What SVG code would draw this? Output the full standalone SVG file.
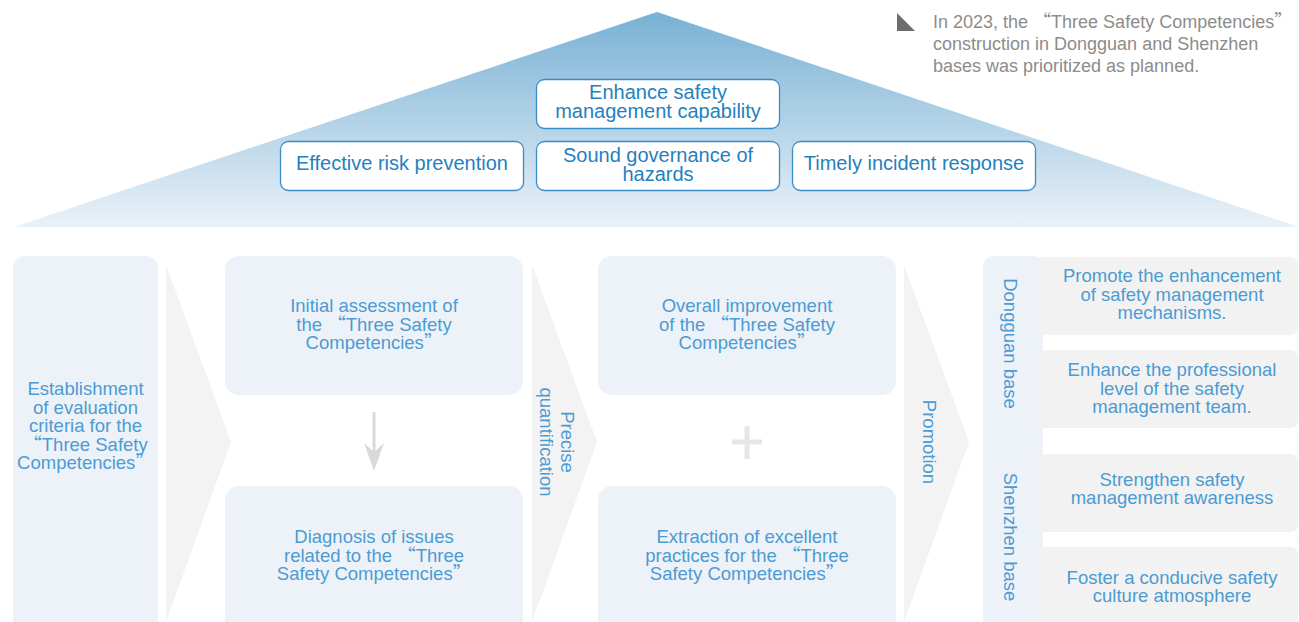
<svg xmlns="http://www.w3.org/2000/svg" width="1299" height="622" viewBox="0 0 1299 622">
<defs>
<linearGradient id="roof" x1="0" y1="12" x2="0" y2="227" gradientUnits="userSpaceOnUse">
<stop offset="0" stop-color="#78b1d4"/>
<stop offset="1" stop-color="#eaf2f9"/>
</linearGradient>
<style>
.top{fill:#ffffff;stroke:#3a8cc6;stroke-width:1.3}
.tt{font-family:"Liberation Sans",Arial,sans-serif;font-size:20px;fill:#2580be;text-anchor:middle}
.lt{font-family:"Liberation Sans",Arial,sans-serif;font-size:18.5px;fill:#4c9bd2;text-anchor:middle}
.vt{font-family:"Liberation Sans",Arial,sans-serif;font-size:18.5px;fill:#4c9bd2;text-anchor:middle;dominant-baseline:central}
.note{font-family:"Liberation Sans",Arial,sans-serif;font-size:18px;fill:#8c8c8c}
.q{font-family:"Noto Sans CJK SC",sans-serif}
.bb{fill:#edf2f9}
.gb{fill:#f2f2f2}
.chev{fill:#f3f3f3}
</style>
</defs>
<rect width="1299" height="622" fill="#ffffff"/>
<g id="roof-shape">
<polygon points="657,12 1299,227 14,227" fill="url(#roof)"/>
</g>
<g id="note">
<polygon points="897,13 897,31 915,31" fill="#6d6d6d"/>
<text class="note"><tspan x="933" y="28">In 2023, the <tspan class="q">“</tspan>Three Safety Competencies<tspan class="q">”</tspan></tspan><tspan x="933" y="50">construction in Dongguan and Shenzhen</tspan><tspan x="933" y="72">bases was prioritized as planned.</tspan></text>
</g>
<g id="n-enhance">
<rect class="top" x="536.5" y="79.5" width="243" height="49" rx="8"/>
<text class="tt"><tspan x="658" y="99">Enhance safety</tspan><tspan x="658" y="117.5">management capability</tspan></text>
</g>
<g id="n-risk">
<rect class="top" x="280.5" y="141.5" width="243" height="49" rx="8"/>
<text class="tt" x="402" y="170">Effective risk prevention</text>
</g>
<g id="n-hazards">
<rect class="top" x="536.5" y="141.5" width="243" height="49" rx="8"/>
<text class="tt"><tspan x="658" y="162">Sound governance of</tspan><tspan x="658" y="180.5">hazards</tspan></text>
</g>
<g id="n-incident">
<rect class="top" x="792.5" y="141.5" width="243" height="49" rx="8"/>
<text class="tt" x="914" y="170">Timely incident response</text>
</g>
<g id="connectors">
<polygon class="chev" points="166,265 231,442 166,622"/>
<polygon class="chev" points="532,265 597,442 532,622"/>
<polygon class="chev" points="904,265 969,442 904,622"/>
<rect x="372.5" y="412" width="3" height="40" fill="#d9d9d9"/>
<path d="M364,443 L374,471 L384,443 L374,452 Z" fill="#d9d9d9"/>
<path d="M732,442 H762 M747,426 V459" stroke="#e6e6e6" stroke-width="5" fill="none"/>
</g>
<g id="n-establish">
<rect class="bb" x="13" y="256" width="145" height="380" rx="12"/>
<text class="lt"><tspan x="85.5" y="395">Establishment</tspan><tspan x="85.5" y="413.5">of evaluation</tspan><tspan x="85.5" y="432">criteria for the</tspan><tspan x="85.5" y="450.5"><tspan class="q">“</tspan>Three Safety</tspan><tspan x="85.5" y="469">Competencies<tspan class="q">”</tspan></tspan></text>
</g>
<g id="n-initial">
<rect class="bb" x="225" y="256" width="298" height="139" rx="14"/>
<text class="lt"><tspan x="374" y="312">Initial assessment of</tspan><tspan x="374" y="330.5">the <tspan class="q">“</tspan>Three Safety</tspan><tspan x="374" y="349">Competencies<tspan class="q">”</tspan></tspan></text>
</g>
<g id="n-diagnosis">
<rect class="bb" x="225" y="486" width="298" height="150" rx="14"/>
<text class="lt"><tspan x="374" y="543">Diagnosis of issues</tspan><tspan x="374" y="561.5">related to the <tspan class="q">“</tspan>Three</tspan><tspan x="374" y="580">Safety Competencies<tspan class="q">”</tspan></tspan></text>
</g>
<g id="n-precise">
<text class="vt" transform="translate(567,442) rotate(90)">Precise</text>
<text class="vt" transform="translate(546,442) rotate(90)">quantification</text>
</g>
<g id="n-overall">
<rect class="bb" x="598" y="256" width="298" height="139" rx="14"/>
<text class="lt"><tspan x="747" y="312">Overall improvement</tspan><tspan x="747" y="330.5">of the <tspan class="q">“</tspan>Three Safety</tspan><tspan x="747" y="349">Competencies<tspan class="q">”</tspan></tspan></text>
</g>
<g id="n-extraction">
<rect class="bb" x="598" y="486" width="298" height="150" rx="14"/>
<text class="lt"><tspan x="747" y="543">Extraction of excellent</tspan><tspan x="747" y="561.5">practices for the <tspan class="q">“</tspan>Three</tspan><tspan x="747" y="580">Safety Competencies<tspan class="q">”</tspan></tspan></text>
</g>
<g id="n-promotion">
<text class="vt" transform="translate(929,442) rotate(90)">Promotion</text>
</g>
<g id="n-bases">
<rect class="bb" x="983" y="256" width="60" height="380" rx="10"/>
<text class="vt" transform="translate(1010,343.5) rotate(90)">Dongguan base</text>
<text class="vt" transform="translate(1010,537) rotate(90)">Shenzhen base</text>
</g>
<g id="n-mech">
<path class="gb" d="M1037,257 H1290 Q1298,257 1298,265 V327 Q1298,335 1290,335 H1037 Z"/>
<text class="lt"><tspan x="1172" y="282">Promote the enhancement</tspan><tspan x="1172" y="300.5">of safety management</tspan><tspan x="1172" y="319">mechanisms.</tspan></text>
</g>
<g id="n-team">
<path class="gb" d="M1037,350 H1290 Q1298,350 1298,358 V420 Q1298,428 1290,428 H1037 Z"/>
<text class="lt"><tspan x="1172" y="376">Enhance the professional</tspan><tspan x="1172" y="394.5">level of the safety</tspan><tspan x="1172" y="413">management team.</tspan></text>
</g>
<g id="n-awareness">
<path class="gb" d="M1037,454 H1290 Q1298,454 1298,462 V524 Q1298,532 1290,532 H1037 Z"/>
<text class="lt"><tspan x="1172" y="485.5">Strengthen safety</tspan><tspan x="1172" y="504">management awareness</tspan></text>
</g>
<g id="n-culture">
<path class="gb" d="M1037,547 H1290 Q1298,547 1298,555 V640 H1037 Z"/>
<text class="lt"><tspan x="1172" y="583.5">Foster a conducive safety</tspan><tspan x="1172" y="602">culture atmosphere</tspan></text>
</g>
</svg>
